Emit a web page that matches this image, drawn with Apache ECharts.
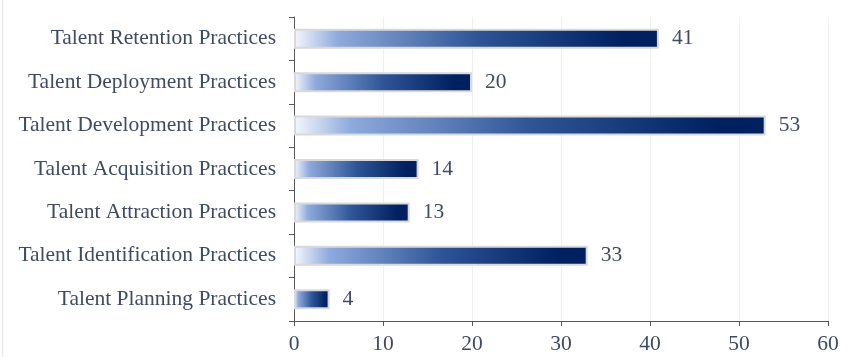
<!DOCTYPE html>
<html><head><meta charset="utf-8">
<script src="https://cdn.jsdelivr.net/npm/echarts@6/dist/echarts.min.js"></script>
<style>html,body{margin:0;padding:0;background:#fff}#c{width:848px;height:357px}</style>
</head><body><div id="c"></div>
<script>
const categories = ['Talent Planning Practices','Talent Identification Practices','Talent Attraction Practices','Talent Acquisition Practices','Talent Development Practices','Talent Deployment Practices','Talent Retention Practices'];
const values = [4,33,13,14,53,20,41];
const xTicks = [0,10,20,30,40,50,60];
const txt = '#3f4b62';
const chart = echarts.init(document.getElementById('c'));
chart.setOption({
  animation:false,
  textStyle:{fontFamily:'Liberation Serif'},
  graphic:[{type:'line',shape:{x1:2.5,y1:0,x2:2.5,y2:357},style:{stroke:'#e6e6e6',lineWidth:1}}],
  grid:{left:294,right:20,top:17,bottom:36},
  xAxis:{type:'value',min:xTicks[0],max:xTicks[xTicks.length-1],interval:10,
    axisLine:{show:true,lineStyle:{color:'#595959',width:1}},
    axisTick:{show:true,length:5,lineStyle:{color:'#595959'}},
    axisLabel:{color:txt,fontSize:21.5,fontFamily:'Liberation Serif',margin:12},
    splitLine:{show:true,lineStyle:{color:'#f0f0f0',width:1}}},
  yAxis:{type:'category',data:categories,
    axisLine:{show:true,lineStyle:{color:'#595959',width:1}},
    axisTick:{show:true,length:5,alignWithLabel:false,lineStyle:{color:'#595959'}},
    axisLabel:{color:txt,fontSize:21.5,fontFamily:'Liberation Serif',margin:18,padding:[3,0,0,0]}},
  series:[{type:'bar',data:values,barWidth:20,
    itemStyle:{borderColor:'#d9d9d9',borderWidth:2,
      color:new echarts.graphic.LinearGradient(0,0,1,0,[
        {offset:0,color:'#f5f7fc'},{offset:0.12,color:'#8faadc'},{offset:0.5,color:'#2f5597'},{offset:0.9,color:'#002060'},{offset:1,color:'#002060'}])},
    label:{show:true,position:'right',distance:13,color:txt,fontSize:21.5,fontFamily:'Liberation Serif',padding:[3,0,0,0]}}]
});
</script></body></html>
